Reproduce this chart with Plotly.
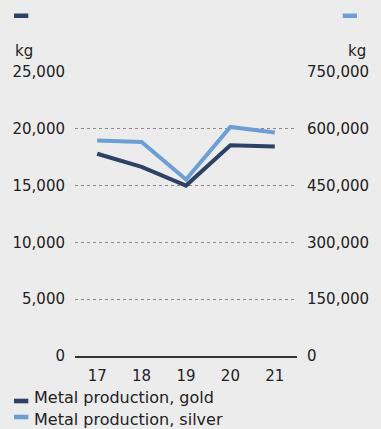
import plotly.graph_objects as go

# Production figures per year
years = ["17", "18", "19", "20", "21"]
gold_kg = [17800, 16650, 15000, 18550, 18450]
silver_kg = [569000, 565000, 466000, 605000, 590000]

left_ticks = [0, 5000, 10000, 15000, 20000, 25000]
right_ticks = [0, 150000, 300000, 450000, 600000, 750000]

GOLD = "#2e4266"
SILVER = "#6e9fd4"
BG = "#ececec"
TXT = "#222222"
FONT = "DejaVu Sans"

W, H = 381, 429
L, R, T, B = 73, 75, 72, 73
PW, PH = W - L - R, H - T - B


def px(x):
    return (x - L) / PW


def py(y):
    return (H - B - y) / PH


fig = go.Figure()
fig.add_trace(go.Scatter(x=years, y=gold_kg, mode="lines", name="Metal production, gold",
                         line=dict(color=GOLD, width=4), showlegend=False, yaxis="y"))
fig.add_trace(go.Scatter(x=years, y=silver_kg, mode="lines", name="Metal production, silver",
                         line=dict(color=SILVER, width=4), showlegend=False, yaxis="y2"))

shapes = []
annotations = []

# top swatches above each axis
shapes.append(dict(type="rect", xref="paper", yref="paper", x0=px(9), x1=px(24), y0=py(18), y1=py(13.5),
                   fillcolor=GOLD, line=dict(width=0)))
shapes.append(dict(type="rect", xref="paper", yref="paper", x0=px(354), x1=px(369), y0=py(18), y1=py(13.5),
                   fillcolor=SILVER, line=dict(width=0)))

# unit labels
annotations.append(dict(text="kg", xref="paper", yref="paper", x=px(8), y=py(51), xanchor="left",
                        yanchor="middle", showarrow=False, font=dict(family=FONT, size=15, color=TXT)))
annotations.append(dict(text="kg", xref="paper", yref="paper", x=px(380), y=py(51), xanchor="right",
                        yanchor="middle", showarrow=False, font=dict(family=FONT, size=15, color=TXT)))

# bottom legend
for label, color, yc, ty in [("Metal production, gold", GOLD, 401, 397.5),
                             ("Metal production, silver", SILVER, 417, 419)]:
    shapes.append(dict(type="rect", xref="paper", yref="paper", x0=px(9), x1=px(24), y0=py(yc + 2.3),
                       y1=py(yc - 2.3), fillcolor=color, line=dict(width=0)))
    annotations.append(dict(text=label, xref="paper", yref="paper", x=px(28), y=py(ty), xanchor="left",
                            yanchor="middle", showarrow=False, font=dict(family=FONT, size=16, color=TXT)))

fig.update_layout(
    width=W, height=H,
    margin=dict(l=L, r=R, t=T, b=B, pad=0),
    paper_bgcolor=BG, plot_bgcolor=BG,
    font=dict(family=FONT, size=15, color=TXT),
    shapes=shapes, annotations=annotations,
    xaxis=dict(type="category", range=[-0.5, 4.5], showgrid=False, zeroline=False,
               showline=True, linecolor="#333333", linewidth=1.5,
               ticks="outside", ticklen=5, tickcolor="rgba(0,0,0,0)",
               tickfont=dict(family=FONT, size=15, color=TXT)),
    yaxis=dict(range=[0, 25000], tickvals=left_ticks,
               ticktext=[f"{v:,}" for v in left_ticks],
               showgrid=True, gridcolor="#8a8a8a", griddash="dot", gridwidth=1,
               zeroline=False, showline=False,
               ticks="outside", ticklen=6, tickcolor="rgba(0,0,0,0)",
               tickfont=dict(family=FONT, size=15, color=TXT)),
    yaxis2=dict(range=[0, 750000], tickvals=right_ticks,
                ticktext=[f"{v:,}" for v in right_ticks],
                overlaying="y", side="right", showgrid=False, zeroline=False, showline=False,
                ticks="outside", ticklen=6, tickcolor="rgba(0,0,0,0)",
                tickfont=dict(family=FONT, size=15, color=TXT)),
)

fig.write_html("out.html")
